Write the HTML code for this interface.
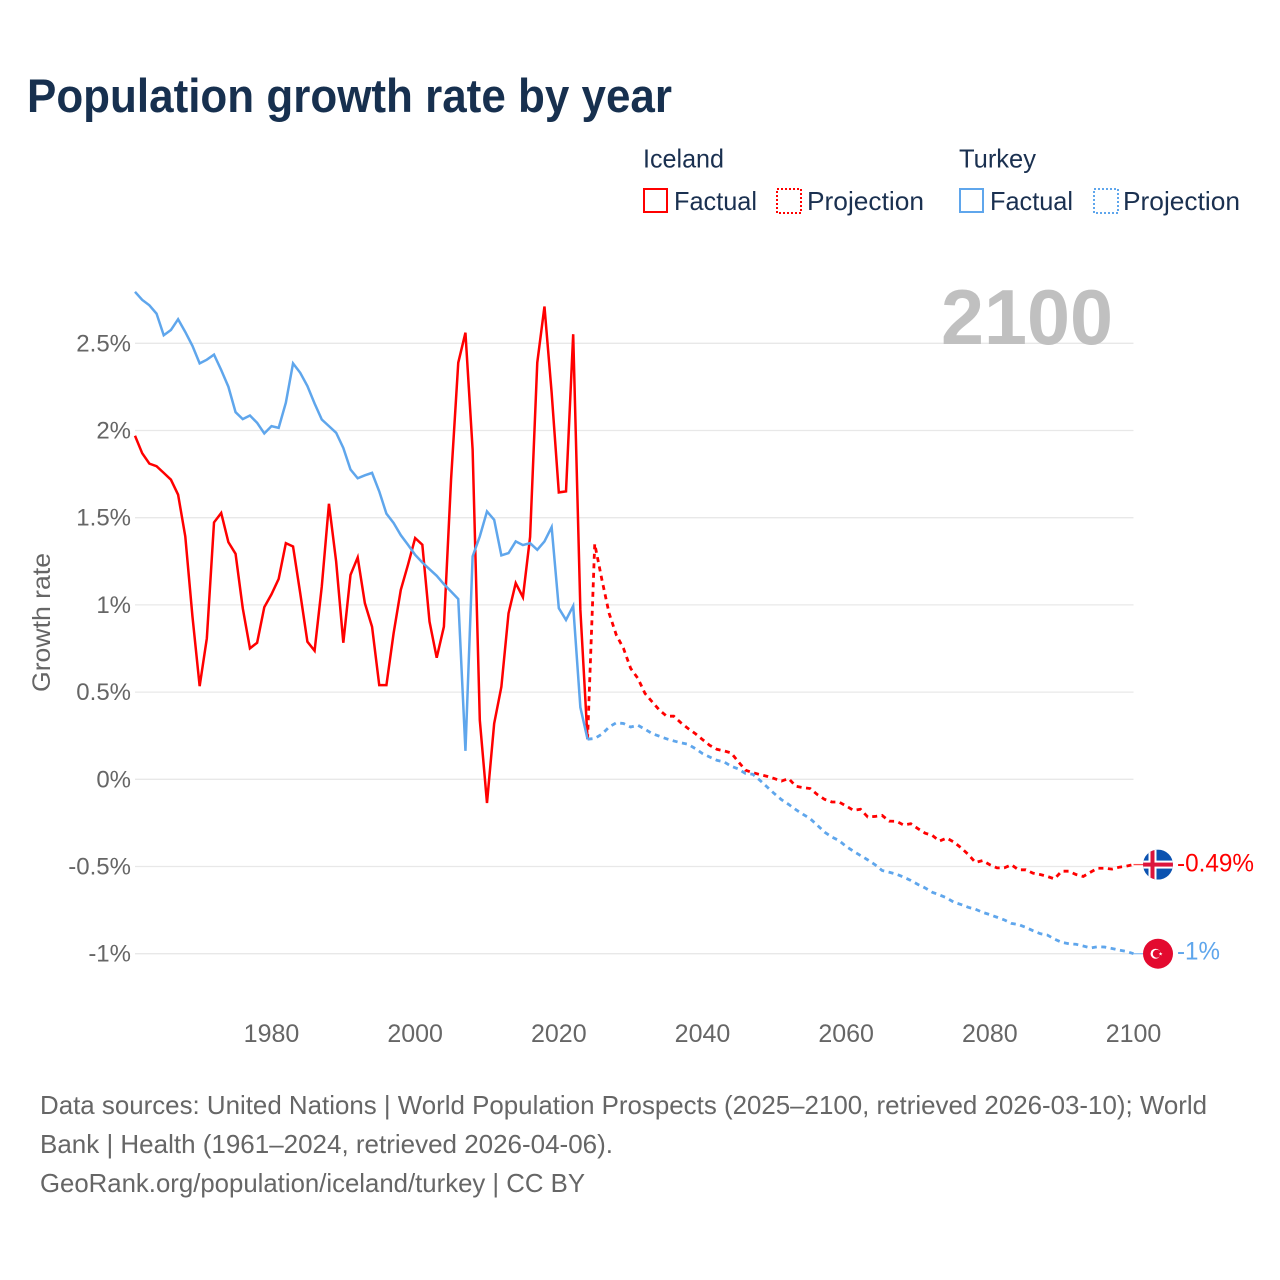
<!DOCTYPE html>
<html lang="en">
<head>
<meta charset="utf-8">
<title>Population growth rate by year</title>
<style>
html,body{margin:0;padding:0;background:#fff;}
svg{display:block;font-family:"Liberation Sans",sans-serif;}
</style>
</head>
<body>
<svg id="chart" xmlns="http://www.w3.org/2000/svg" width="1280" height="1280" viewBox="0 0 1280 1280">
  <rect x="0" y="0" width="1280" height="1280" fill="#ffffff"/>
  <text x="27" y="112" font-size="47" font-weight="700" fill="#17304f" textLength="645" lengthAdjust="spacingAndGlyphs">Population growth rate by year</text>

  <g font-size="26" fill="#1a3050">
    <text x="643" y="167.5" textLength="81" lengthAdjust="spacingAndGlyphs">Iceland</text>
    <text x="959" y="167.5" textLength="77" lengthAdjust="spacingAndGlyphs">Turkey</text>
    <g>
      <rect x="644" y="189" width="23" height="23" fill="none" stroke="#ff0000" stroke-width="2"/>
      <text x="674" y="210" textLength="83" lengthAdjust="spacingAndGlyphs">Factual</text>
    </g>
    <g>
      <rect x="777" y="189" width="24" height="24" fill="none" stroke="#ff0000" stroke-width="2" stroke-dasharray="2 2"/>
      <text x="807" y="210" textLength="117" lengthAdjust="spacingAndGlyphs">Projection</text>
    </g>
    <g>
      <rect x="960" y="189" width="23" height="23" fill="none" stroke="#5fa6ec" stroke-width="2"/>
      <text x="990" y="210" textLength="83" lengthAdjust="spacingAndGlyphs">Factual</text>
    </g>
    <g>
      <rect x="1094" y="189" width="24" height="24" fill="none" stroke="#5fa6ec" stroke-width="2" stroke-dasharray="2 2"/>
      <text x="1123" y="210" textLength="117" lengthAdjust="spacingAndGlyphs">Projection</text>
    </g>
  </g>

  <g id="grid"></g>
  <text x="941" y="344" font-size="78" font-weight="700" fill="#c0c0c0" textLength="172" lengthAdjust="spacingAndGlyphs">2100</text>
  <g id="y-axis"></g>
  <g id="x-axis"></g>
  <text transform="translate(50,692) rotate(-90)" font-size="25" fill="#666666" textLength="139" lengthAdjust="spacingAndGlyphs">Growth rate</text>
  <g id="series"></g>

  <g id="iceland-marker">
    <clipPath id="clip-is"><circle cx="0" cy="0" r="15"/></clipPath>
    <g clip-path="url(#clip-is)">
      <rect x="-15" y="-15" width="30" height="30" fill="#0b52b0"/>
      <rect x="-9.5" y="-15" width="8" height="30" fill="#ffffff"/>
      <rect x="-15" y="-4" width="30" height="8" fill="#ffffff"/>
      <rect x="-7.5" y="-15" width="4" height="30" fill="#dc143c"/>
      <rect x="-15" y="-2" width="30" height="4" fill="#dc143c"/>
    </g>
  </g>
  <g id="turkey-marker">
    <circle cx="0" cy="0" r="15" fill="#e30a2f"/>
    <circle cx="-2.5" cy="0" r="5" fill="#ffffff"/>
    <circle cx="-1.2" cy="0" r="4" fill="#e30a2f"/>
    <polygon points="2.6,-1.8 3.1,-0.5 4.5,-0.5 3.4,0.4 3.8,1.8 2.6,1 1.4,1.8 1.8,0.4 0.7,-0.5 2.1,-0.5" fill="#ffffff"/>
  </g>
  <text id="iceland-end-label" x="1177" font-size="25" fill="#ff0000" textLength="77" lengthAdjust="spacingAndGlyphs"></text>
  <text id="turkey-end-label" x="1177" font-size="25" fill="#5fa6ec" textLength="43" lengthAdjust="spacingAndGlyphs"></text>

  <g font-size="26" fill="#666666">
    <text x="40" y="1114" textLength="1167" lengthAdjust="spacingAndGlyphs">Data sources: United Nations | World Population Prospects (2025–2100, retrieved 2026-03-10); World</text>
    <text x="40" y="1153" textLength="573" lengthAdjust="spacingAndGlyphs">Bank | Health (1961–2024, retrieved 2026-04-06).</text>
    <text x="40" y="1192" textLength="545" lengthAdjust="spacingAndGlyphs">GeoRank.org/population/iceland/turkey | CC BY</text>
  </g>
</svg>
<script>
var xTickYears = [1980, 2000, 2020, 2040, 2060, 2080, 2100];
var yTickValues = [2.5, 2, 1.5, 1, 0.5, 0, -0.5, -1];
var yTickLabels = ["2.5%", "2%", "1.5%", "1%", "0.5%", "0%", "-0.5%", "-1%"];
var factualStartYear = 1961;
var projectionStartYear = 2024;
var icelandFactual = [
  1.97,1.87,1.81,1.795,1.757,1.718,1.632,1.393,0.933,0.534,
  0.808,1.473,1.527,1.36,1.293,0.981,0.751,0.783,0.987,1.061,
  1.149,1.354,1.335,1.067,0.789,0.737,1.105,1.58,1.249,0.783,
  1.172,1.272,1.01,0.875,0.54,0.54,0.837,1.086,1.23,1.383,
  1.345,0.904,0.697,0.875,1.72,2.389,2.561,1.891,0.339,-0.136,
  0.32,0.53,0.952,1.125,1.044,1.39,2.389,2.711,2.217,1.645,
  1.651,2.552,0.971,0.23
];
var turkeyFactual = [
  2.795,2.749,2.718,2.67,2.546,2.576,2.638,2.565,2.485,2.385,
  2.406,2.435,2.347,2.251,2.105,2.065,2.086,2.044,1.983,2.025,
  2.015,2.159,2.385,2.331,2.255,2.155,2.063,2.025,1.987,1.9,
  1.776,1.726,1.743,1.757,1.651,1.523,1.47,1.4,1.345,1.287,
  1.243,1.205,1.167,1.119,1.077,1.034,0.163,1.278,1.393,1.536,
  1.488,1.284,1.297,1.364,1.343,1.354,1.316,1.364,1.446,0.981,
  0.914,0.994,0.412,0.23
];
var icelandProjection = [
  0.23,1.35,1.144,0.952,0.828,0.751,0.636,0.579,0.492,0.444,
  0.397,0.362,0.362,0.324,0.291,0.262,0.228,0.195,0.172,0.163,
  0.151,0.1,0.052,0.038,0.027,0.017,0.004,-0.01,0.004,-0.04,
  -0.048,-0.053,-0.088,-0.115,-0.13,-0.13,-0.153,-0.178,-0.172,-0.216,
  -0.213,-0.207,-0.24,-0.241,-0.262,-0.255,-0.283,-0.309,-0.322,-0.354,
  -0.337,-0.36,-0.393,-0.431,-0.477,-0.466,-0.49,-0.508,-0.508,-0.49,
  -0.519,-0.519,-0.538,-0.546,-0.557,-0.571,-0.527,-0.527,-0.546,-0.557,
  -0.533,-0.51,-0.51,-0.515,-0.504,-0.498,-0.489
];
var turkeyProjection = [
  0.23,0.234,0.259,0.3,0.324,0.32,0.3,0.31,0.287,0.262,
  0.247,0.232,0.22,0.209,0.201,0.176,0.148,0.128,0.109,0.1,
  0.075,0.059,0.033,0.029,-0.006,-0.044,-0.082,-0.117,-0.144,-0.174,
  -0.201,-0.226,-0.264,-0.303,-0.331,-0.351,-0.385,-0.412,-0.437,-0.462,
  -0.489,-0.523,-0.533,-0.544,-0.561,-0.58,-0.603,-0.623,-0.648,-0.663,
  -0.68,-0.705,-0.718,-0.734,-0.745,-0.763,-0.776,-0.791,-0.806,-0.826,
  -0.833,-0.849,-0.868,-0.885,-0.893,-0.916,-0.935,-0.943,-0.946,-0.956,
  -0.967,-0.96,-0.962,-0.97,-0.979,-0.987,-1
];
var icelandEndLabel = "-0.49%";
var turkeyEndLabel = "-1%";

var SVG_NS = "http://www.w3.org/2000/svg";
function xScale(year) { return 135 + (year - 1961) * (998.5 / 139); }
function yScale(value) { return 779.3 - value * 174.4; }
function pointsFor(values, startYear) {
  var parts = [];
  for (var i = 0; i < values.length; i++) {
    parts.push(xScale(startYear + i).toFixed(2) + "," + yScale(values[i]).toFixed(2));
  }
  return parts.join(" ");
}

var gridGroup = document.getElementById("grid");
var yAxisGroup = document.getElementById("y-axis");
yTickValues.forEach(function (value, i) {
  var line = document.createElementNS(SVG_NS, "line");
  
  
  line.setAttribute("x1", xScale(1961));
  line.setAttribute("x2", xScale(2100));
  line.setAttribute("y1", yScale(value));
  line.setAttribute("y2", yScale(value));
  line.setAttribute("stroke", "#e8e8e8");
  line.setAttribute("stroke-width", "1.3");
  gridGroup.appendChild(line);

  var label = document.createElementNS(SVG_NS, "text");
  
  
  label.setAttribute("x", 131);
  label.setAttribute("y", yScale(value) + 8);
  label.setAttribute("text-anchor", "end");
  label.setAttribute("font-size", "24");
  label.setAttribute("fill", "#666666");
  label.textContent = yTickLabels[i];
  yAxisGroup.appendChild(label);
});

var xAxisGroup = document.getElementById("x-axis");
xTickYears.forEach(function (year) {
  var label = document.createElementNS(SVG_NS, "text");
  
  
  label.setAttribute("x", xScale(year));
  label.setAttribute("y", 1042);
  label.setAttribute("text-anchor", "middle");
  label.setAttribute("font-size", "25");
  label.setAttribute("fill", "#666666");
  label.textContent = String(year);
  xAxisGroup.appendChild(label);
});

var seriesGroup = document.getElementById("series");
function addLine(name, values, startYear, color, dashed) {
  var poly = document.createElementNS(SVG_NS, "polyline");
  
  
  poly.setAttribute("points", pointsFor(values, startYear));
  poly.setAttribute("fill", "none");
  poly.setAttribute("stroke", color);
  poly.setAttribute("stroke-width", dashed ? "2.8" : "2.5");
  poly.setAttribute("stroke-linejoin", "miter");
  if (dashed) { poly.setAttribute("stroke-dasharray", "5 4.5"); }
  seriesGroup.appendChild(poly);
}
addLine("iceland-factual-line", icelandFactual, factualStartYear, "#ff0000", false);
addLine("iceland-projection-line", icelandProjection, projectionStartYear, "#ff0000", true);
addLine("turkey-factual-line", turkeyFactual, factualStartYear, "#5fa6ec", false);
addLine("turkey-projection-line", turkeyProjection, projectionStartYear, "#5fa6ec", true);

function addLeader(name, value, color) {
  var leader = document.createElementNS(SVG_NS, "line");
  
  
  leader.setAttribute("x1", xScale(2100));
  leader.setAttribute("x2", 1143);
  leader.setAttribute("y1", yScale(value));
  leader.setAttribute("y2", yScale(value));
  leader.setAttribute("stroke", color);
  leader.setAttribute("stroke-width", "1.3");
  leader.setAttribute("stroke-opacity", "0.7");
  seriesGroup.appendChild(leader);
}
var icelandLast = icelandProjection[icelandProjection.length - 1];
var turkeyLast = turkeyProjection[turkeyProjection.length - 1];
addLeader("iceland-end-leader", icelandLast, "#ff0000");
addLeader("turkey-end-leader", turkeyLast, "#5fa6ec");

document.getElementById("iceland-marker").setAttribute("transform", "translate(1158," + yScale(icelandLast) + ")");
document.getElementById("turkey-marker").setAttribute("transform", "translate(1158," + yScale(turkeyLast) + ")");
var icelandText = document.getElementById("iceland-end-label");
icelandText.setAttribute("y", yScale(icelandLast) + 7);
icelandText.textContent = icelandEndLabel;
var turkeyText = document.getElementById("turkey-end-label");
turkeyText.setAttribute("y", yScale(turkeyLast) + 6);
turkeyText.textContent = turkeyEndLabel;
</script>
</body>
</html>
